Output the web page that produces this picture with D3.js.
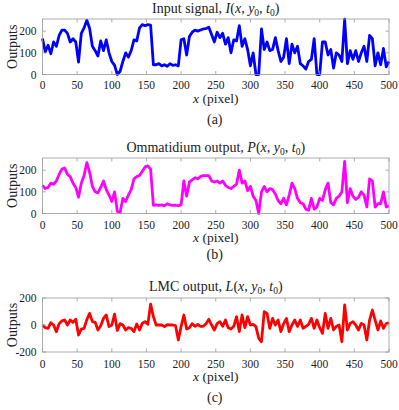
<!DOCTYPE html>
<html>
<head>
<meta charset="utf-8">
<script src="https://cdn.jsdelivr.net/npm/d3@7"></script>
<style>
  body { margin: 0; background: #fff; }
  text { font-family: "Liberation Serif", "Times New Roman", serif; fill: #222; }
</style>
</head>
<body>
<svg></svg>
<script>
let width = 399, height = 410;

let svg = d3.select("svg")
    .attr("width", width)
    .attr("height", height);

// x positions (pixel), one sample every 4 pixels
const xs = d3.range(0, 501, 4);
const xTicks = [0, 50, 100, 150, 200, 250, 300, 350, 400, 450, 500];

// Input signal I(x, y0, t0)
const inputSignal = [
    166, 104, 135, 96, 150, 130, 180, 205, 205, 190,
    150, 165, 150, 57, 190, 215, 250, 212, 130, 110,
    85, 155, 110, 160, 100, 60, 42, 0, 15, 60,
    100, 80, 110, 160, 155, 215, 230, 225, 230, 228,
    45, 45, 50, 40, 45, 38, 50, 42, 45, 40,
    160, 165, 90, 175, 195, 205, 200, 205, 210, 212,
    218, 185, 150, 195, 170, 190, 140, 170, 100, 160,
    155, 225, 130, 165, 115, 40, 100, 0, 0, 210,
    115, 150, 110, 115, 170, 110, 60, 80, 165, 50,
    140, 100, 130, 50, 40, 25, 60, 70, 165, 0,
    0, 150, 150, 90, 115, 30, 100, 90, 60, 255,
    50, 110, 70, 110, 60, 100, 130, 60, 180, 165,
    40, 100, 45, 120, 35, 60
];

// Ommatidium output P(x, y0, t0)
const ommatidium = [
    130, 115, 120, 140, 135, 150, 180, 205, 210, 180,
    170, 140, 120, 75, 140, 175, 235, 190, 125, 100,
    95, 120, 150, 110, 85, 55, 100, 10, 5, 70,
    55, 85, 110, 160, 170, 175, 195, 215, 220, 205,
    38, 40, 38, 40, 35, 45, 40, 38, 38, 36,
    40, 150, 80, 145, 155, 165, 160, 170, 175, 175,
    175, 150, 145, 150, 140, 150, 130, 120, 115, 125,
    135, 200, 140, 150, 105, 125, 80, 60, 0, 100,
    125, 100, 115, 110, 90, 60, 45, 70, 40, 85,
    140, 115, 70, 50, 45, 20, 15, 70, 20, 30,
    70, 60, 110, 140, 50, 40, 70, 80, 100, 240,
    50, 115, 80, 65, 75, 100, 85, 30, 160, 150,
    30, 45, 45, 100, 30, 35
];

// LMC output L(x, y0, t0)
const lmc = [
    0, -20, -25, 17, 0, -50, 10, 30, 37, 0,
    37, 20, 42, -74, -30, -25, 40, 86, 25, 20,
    -37, -5, 49, 74, -12, 0, 80, -40, 10, 0,
    -37, -20, -25, -49, 7, -37, 12, 25, 5, 155,
    62, 0, 0, 0, -12, 2, 0, 0, -5, -111,
    -12, 74, -30, -20, 10, -10, 5, -10, -10, 10,
    42, 0, -37, 10, 25, -10, 37, -20, -30, -10,
    62, -49, 74, -20, 62, 0, 5, -12, -99, -124,
    99, 86, -25, 49, 0, 37, -49, 10, 49, -49,
    0, 37, -10, 37, -25, -10, 5, 49, -25, 37,
    -20, -62, 86, -25, 49, -37, -10, 0, -124, 148,
    -37, 12, 25, 0, -37, 12, 0, -111, 37, 111,
    37, -37, 30, -25, 10, 17
];

let left = 42.5, right = 389;

let panels = [
    { values: inputSignal, color: "#0000ff", top: 19, bottom: 74.5, domain: [0, 256], yTicks: [0, 100, 200],
      name: "Input signal, ", fn: "I", label: "(a)", titleY: 13, tickY: 89, xlabY: 102.5, capY: 124 },
    { values: ommatidium, color: "#ff00ff", top: 158, bottom: 213.5, domain: [0, 256], yTicks: [0, 100, 200],
      name: "Ommatidium output, ", fn: "P", label: "(b)", titleY: 152, tickY: 229, xlabY: 242, capY: 258.5 },
    { values: lmc, color: "#ff0000", top: 298, bottom: 352, domain: [-200, 200], yTicks: [-200, 0, 200],
      name: "LMC output, ", fn: "L", label: "(c)", titleY: 291, tickY: 368, xlabY: 381, capY: 402 }
];

let x = d3.scaleLinear().domain([0, 500]).range([left, right]);

// write math-like text: italic letters and subscripts
function mathText(t, parts) {
    parts.forEach(p => {
        let s = t.append("tspan").text(p.t);
        if (p.i) s.style("font-style", "italic");
        if (p.sub) s.attr("dy", 3).style("font-size", "9.5px");
        if (p.up) s.attr("dy", -3);
    });
}

panels.forEach(p => {
    let y = d3.scaleLinear().domain(p.domain).range([p.bottom, p.top]);
    let g = svg.append("g");

    // data line
    g.append("path")
        .datum(p.values)
        .attr("fill", "none")
        .attr("stroke", p.color)
        .attr("stroke-width", 2.8)
        .attr("stroke-linejoin", "round")
        .attr("d", d3.line().x((d, i) => x(xs[i])).y(d => y(d)));

    // box
    g.append("rect")
        .attr("x", left).attr("y", p.top)
        .attr("width", right - left).attr("height", p.bottom - p.top)
        .attr("fill", "none").attr("stroke", "#9a9a9a").attr("stroke-width", 0.8);

    // inward ticks
    xTicks.forEach(t => {
        g.append("line").attr("x1", x(t)).attr("x2", x(t)).attr("y1", p.bottom).attr("y2", p.bottom - 3.5)
            .attr("stroke", "#9a9a9a").attr("stroke-width", 0.8);
        g.append("line").attr("x1", x(t)).attr("x2", x(t)).attr("y1", p.top).attr("y2", p.top + 3.5)
            .attr("stroke", "#9a9a9a").attr("stroke-width", 0.8);
        g.append("text").attr("x", x(t)).attr("y", p.tickY)
            .attr("text-anchor", "middle").style("font-size", "11.5px").text(t);
    });
    p.yTicks.forEach(t => {
        g.append("line").attr("x1", left).attr("x2", left + 3.5).attr("y1", y(t)).attr("y2", y(t))
            .attr("stroke", "#9a9a9a").attr("stroke-width", 0.8);
        g.append("line").attr("x1", right).attr("x2", right - 3.5).attr("y1", y(t)).attr("y2", y(t))
            .attr("stroke", "#9a9a9a").attr("stroke-width", 0.8);
        g.append("text").attr("x", left - 6).attr("y", y(t) + 4)
            .attr("text-anchor", "end").style("font-size", "11.5px").text(t);
    });

    // y label
    g.append("text")
        .attr("transform", `translate(17,${(p.top + p.bottom) / 2}) rotate(-90)`)
        .attr("text-anchor", "middle").style("font-size", "14px").text("Outputs");

    // title
    let title = g.append("text").attr("x", (left + right) / 2).attr("y", p.titleY)
        .attr("text-anchor", "middle").style("font-size", "14px");
    mathText(title, [
        { t: p.name }, { t: p.fn, i: true }, { t: "(" }, { t: "x", i: true }, { t: ", " },
        { t: "y", i: true }, { t: "0", sub: true }, { t: ", ", up: true },
        { t: "t", i: true }, { t: "0", sub: true }, { t: ")", up: true }
    ]);

    // x label
    let xl = g.append("text").attr("x", (left + right) / 2).attr("y", p.xlabY)
        .attr("text-anchor", "middle").style("font-size", "13.5px");
    mathText(xl, [{ t: "x", i: true }, { t: " (pixel)" }]);

    // caption
    g.append("text").attr("x", (left + right) / 2 - 1).attr("y", p.capY)
        .attr("text-anchor", "middle").style("font-size", "14px").text(p.label);
});
</script>
</body>
</html>
